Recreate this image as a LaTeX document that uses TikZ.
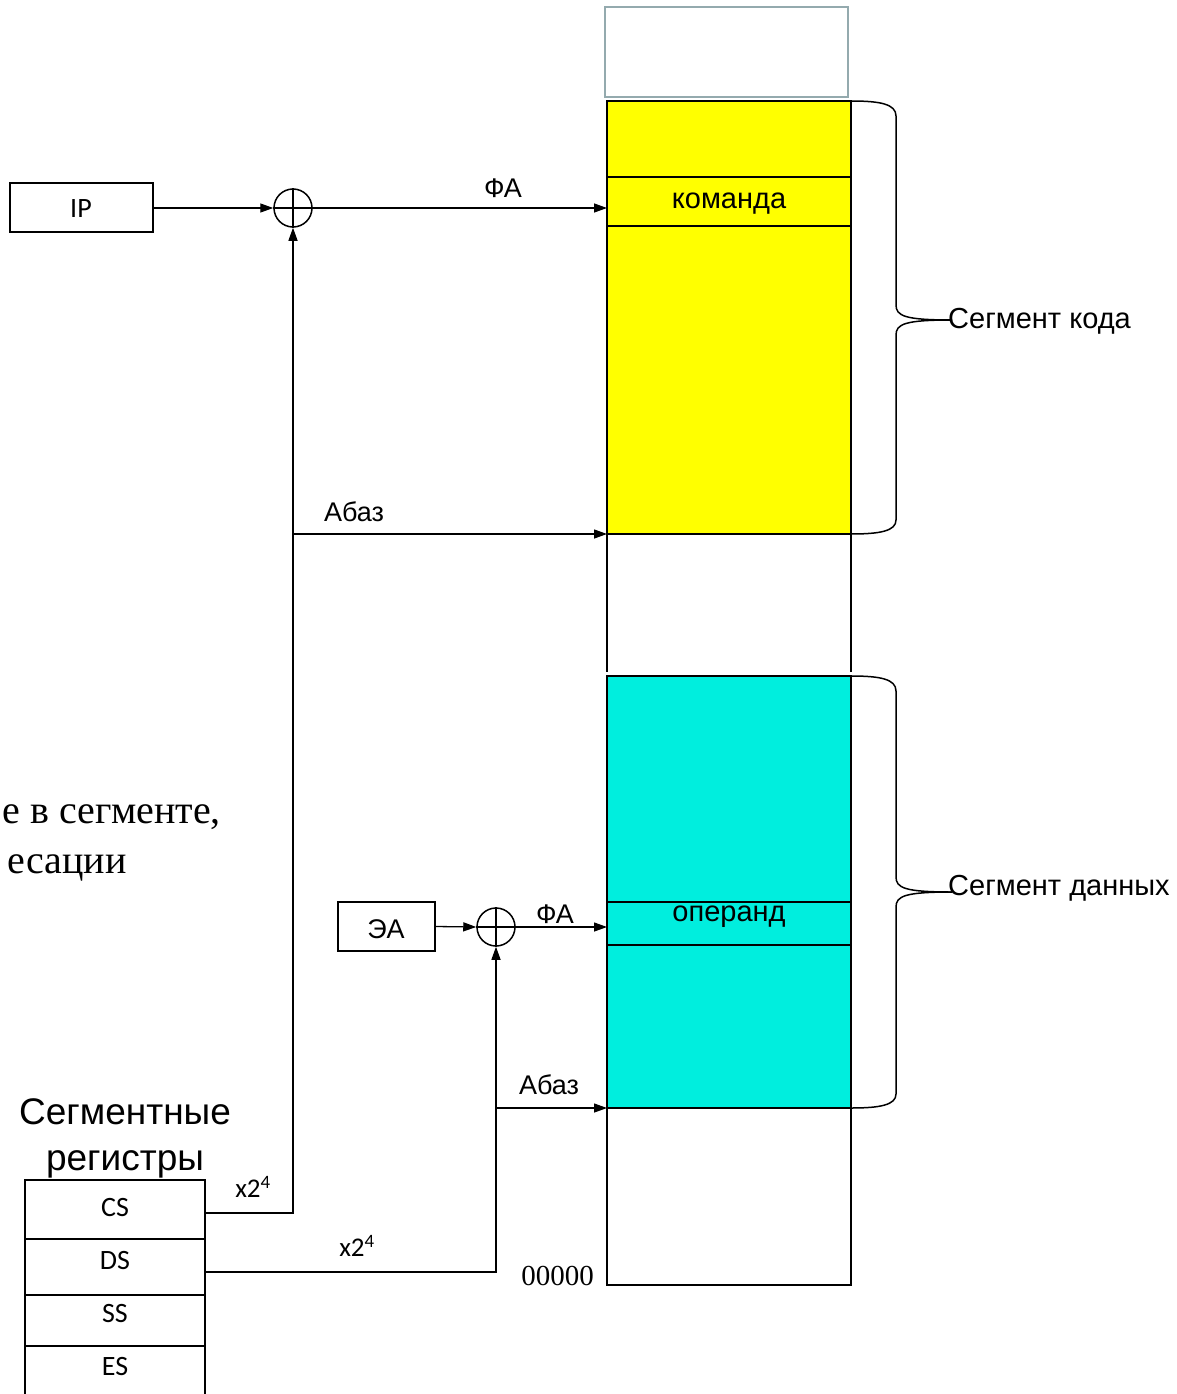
\documentclass[tikz,border=0pt]{standalone}
\usepackage{fontspec}
\setmainfont{Liberation Sans}
\newfontfamily\calibfont{Carlito}
\newfontfamily\timesfont{Liberation Serif}
\usetikzlibrary{arrows.meta}
\definecolor{topgray}{RGB}{148,170,174}
\definecolor{cyanfill}{RGB}{0,238,222}
\definecolor{yellowfill}{RGB}{255,255,0}
\tikzset{
  cellbox/.style={draw, line width=2pt, minimum width=244pt, inner sep=0pt, outer sep=0pt},
  regbox/.style={draw, line width=1.5pt, minimum width=180pt, inner sep=0pt, outer sep=0pt},
  regtext/.style={font=\calibfont\fontsize{28}{32}\selectfont, inner sep=0pt},
  plainbox/.style={draw, line width=1.5pt, inner sep=0pt},
  summer/.style={circle, draw, line width=1.5pt, minimum size=38pt, inner sep=0pt},
  arr/.style={line width=1.3pt, -{Triangle[length=13pt,width=9pt]}},
  lbl/.style={font=\fontsize{27}{31}\selectfont, inner sep=0pt},
  biglbl/.style={font=\fontsize{29}{34}\selectfont, inner sep=0pt},
  calib/.style={font=\calibfont\fontsize{27}{31}\selectfont, inner sep=0pt},
  brace/.style={line width=1.5pt}
}
\begin{document}
\begin{tikzpicture}[x=1pt,y=-1pt]
\useasboundingbox (0,0) rectangle (1176,1394);
% top empty box
\node[draw=topgray, line width=2.5pt, minimum width=243pt, minimum height=90pt, inner sep=0pt] (topbox) at (726.5,52) {};
% memory column
\node[cellbox, fill=yellowfill, minimum height=76pt] (codetop) at (729,139) {};
\node[cellbox, fill=yellowfill, minimum height=49pt] (cmd) at (729,201.5) {};
\node[biglbl] (cmdlabel) at (729,204) {команда};
\node[cellbox, fill=yellowfill, minimum height=308pt] (codebot) at (729,380) {};
\coordinate (gapL) at (607,672);
\coordinate (gapR) at (851,672);
\draw[line width=2pt] (codebot.south west) -- (gapL);
\draw[line width=2pt] (codebot.south east) -- (gapR);
\node[cellbox, fill=cyanfill, minimum height=226pt] (datatop) at (729,789) {};
\node[cellbox, fill=cyanfill, minimum height=43pt] (op) at (729,923.5) {};
\node[biglbl] (oplabel) at (729,917) {операнд};
\node[cellbox, fill=cyanfill, minimum height=163pt] (databot) at (729,1026.5) {};
\node[cellbox, fill=white, minimum height=177pt] (low) at (729,1196.5) {};
\node[font=\timesfont\fontsize{29}{34}\selectfont, anchor=east, inner sep=0pt] (zero) at (594,1276) {00000};
% braces
\coordinate (b1tip) at (952,320);
\draw[brace] (codetop.north east) .. controls (880,101) and (896,104) .. (896,116) -- (896,305)
  .. controls (896,316) and (905,320) .. (b1tip);
\draw[brace] (b1tip) .. controls (905,320) and (896,324) .. (896,335) -- (896,520)
  .. controls (896,531) and (880,534) .. (codebot.south east);
\node[biglbl, anchor=west] (codeseg) at (948,321) {Сегмент кода};
\coordinate (b2tip) at (952,892);
\draw[brace] (datatop.north east) .. controls (880,676) and (896,679) .. (896,691) -- (896,877)
  .. controls (896,888) and (905,892) .. (b2tip);
\draw[brace] (b2tip) .. controls (905,892) and (896,896) .. (896,907) -- (896,1094)
  .. controls (896,1105) and (880,1108) .. (databot.south east);
\node[biglbl, anchor=west] (dataseg) at (948,888) {Сегмент данных};
% IP path
\node[plainbox, minimum width=143pt, minimum height=49pt] (ip) at (81.5,207.5) {};
\node[regtext] (iplabel) at (81,209) {IP};
\node[summer] (s1) at (293,208) {};
\draw[line width=1.5pt] (s1.north) -- (s1.south) (s1.west) -- (s1.east);
\draw[arr] (ip.east |- s1.west) -- (s1.west);
\draw[arr] (s1.east) -- (s1.east -| cmd.west);
\node[lbl] (fa1) at (503,188) {ФА};
% EA path
\node[plainbox, minimum width=97pt, minimum height=49pt] (ea) at (386.5,926.5) {};
\node[lbl] (ealabel) at (386,929) {ЭА};
\node[summer] (s2) at (496,927) {};
\draw[line width=1.5pt] (s2.north) -- (s2.south) (s2.west) -- (s2.east);
\draw[arr] (ea.east) -- (s2.west);
\draw[arr] (s2.east) -- (s2.east -| op.west);
\node[lbl] (fa2) at (555,914) {ФА};
% registers
\node[regbox, minimum height=59pt] (cs) at (115,1209.5) {};
\node[regbox, minimum height=56pt] (ds) at (115,1267) {};
\node[regbox, minimum height=51pt] (ss) at (115,1320.5) {};
\node[regbox, minimum height=70pt] (es) at (115,1381) {};
\node[regtext] (cslabel) at (115,1207) {CS};
\node[regtext] (dslabel) at (115,1260) {DS};
\node[regtext] (sslabel) at (115,1313) {SS};
\node[regtext] (eslabel) at (115,1366) {ES};
\node[font=\fontsize{37}{46}\selectfont, align=center, inner sep=0pt] (regtitle) at (125,1138) {Сегментные\\регистры};
% CS line
\coordinate (csout) at (205,1213);
\draw[arr] (csout) -| (s1.south);
\coordinate (j1) at (s1.south |- codebot.south);
\draw[arr] (j1) -- (codebot.south west);
\node[lbl] (abaz1) at (354,512) {Абаз};
\node[calib] (x1) at (253,1187) {x2\textsuperscript{4}};
% DS line
\coordinate (dsout) at (205,1272);
\draw[arr] (dsout) -| (s2.south);
\coordinate (j2) at (s2.south |- databot.south);
\draw[arr] (j2) -- (databot.south west);
\node[lbl] (abaz2) at (549,1085) {Абаз};
\node[calib] (x2) at (357,1246) {x2\textsuperscript{4}};
% partial left text
\node[font=\timesfont\fontsize{40}{51}\selectfont, anchor=east, inner sep=0pt] (t1) at (221,817) {е в сегменте,};
\node[font=\timesfont\fontsize{40}{51}\selectfont, anchor=east, inner sep=0pt] (t2) at (127,868) {есации};
\end{tikzpicture}
\end{document}
